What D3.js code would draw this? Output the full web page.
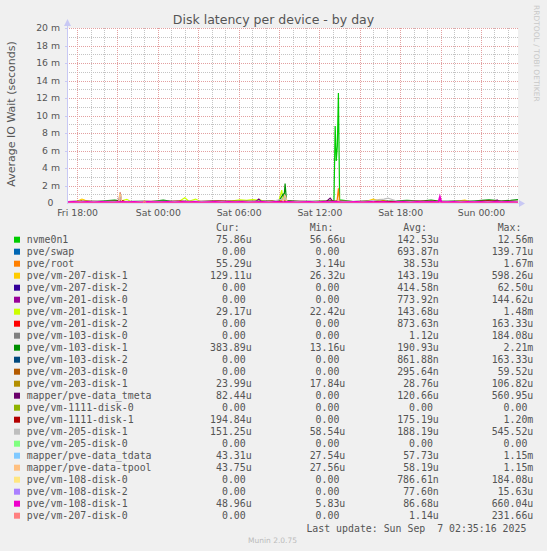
<!DOCTYPE html>
<html>
<head>
<meta charset="utf-8">
<script src="https://cdn.jsdelivr.net/npm/d3@7"></script>
<style>
  html, body { margin: 0; padding: 0; background: #f0f0f0; }
  svg { display: block; font-family: "DejaVu Sans", sans-serif; }
  .mono { font-family: "DejaVu Sans Mono", monospace; font-size: 9.9px; fill: #555; white-space: pre; }
</style>
</head>
<body>
<svg id="chart" width="547" height="551"></svg>
<script>
// hours counted from Fri 00:00, values in milliseconds
const startHour = 17.25, endHour = 50.75;

const names = ["nvme0n1","pve/swap","pve/root","pve/vm-207-disk-1","pve/vm-207-disk-2","pve/vm-201-disk-0",
  "pve/vm-201-disk-1","pve/vm-201-disk-2","pve/vm-103-disk-0","pve/vm-103-disk-1","pve/vm-103-disk-2",
  "pve/vm-203-disk-0","pve/vm-203-disk-1","mapper/pve-data_tmeta","pve/vm-1111-disk-0","pve/vm-1111-disk-1",
  "pve/vm-205-disk-1","pve/vm-205-disk-0","mapper/pve-data_tdata","mapper/pve-data-tpool","pve/vm-108-disk-0",
  "pve/vm-108-disk-2","pve/vm-108-disk-1","pve/vm-207-disk-0"];

const colors = ["#00CC00","#0066B3","#FF8000","#FFCC00","#330099","#990099","#CCFF00","#FF0000","#808080",
  "#008F00","#00487D","#B35A00","#B38F00","#6B006B","#8FB300","#B30000","#BEBEBE","#80FF80","#80C9FF",
  "#FFC080","#FFE680","#AA80FF","#EE00CC","#FF8080"];

const curLabels = ["75.86u","0.00","55.29u","129.11u","0.00","0.00","29.17u","0.00","0.00","383.89u","0.00","0.00",
  "23.99u","82.44u","0.00","194.84u","151.25u","0.00","43.31u","43.75u","0.00","0.00","48.96u","0.00"];
const minLabels = ["56.66u","0.00","3.14u","26.32u","0.00","0.00","22.42u","0.00","0.00","13.16u","0.00","0.00",
  "17.84u","0.00","0.00","0.00","58.54u","0.00","27.54u","27.56u","0.00","0.00","5.83u","0.00"];
const avgLabels = ["142.53u","693.87n","38.53u","143.19u","414.58n","773.92n","143.68u","873.63n","1.12u","190.93u",
  "861.88n","295.64n","28.76u","120.66u","0.00","175.19u","188.19u","0.00","57.73u","58.19u","786.61n","77.60n",
  "86.68u","1.14u"];
const maxLabels = ["12.56m","139.71u","1.67m","598.26u","62.50u","144.62u","1.48m","163.33u","184.08u","2.21m",
  "163.33u","59.52u","106.82u","560.95u","0.00","1.20m","545.52u","0.00","1.15m","1.15m","184.08u","15.63u",
  "660.04u","231.66u"];

const nvme0n1 = [[17.25,.13],[18,.15],[19,.12],[20,.16],[21,.14],[22,.13],[23,.18],[24,.14],[25,.12],[26,.15],
  [27,.13],[28,.16],[29,.12],[30,.14],[31,.13],[32,.15],[33,.2],[33.3,.55],[33.6,.18],[34.5,.14],[35.5,.16],
  [36.5,.15],[37.08,.3],[37.17,8.8],[37.25,4.8],[37.33,6.5],[37.41,12.56],[37.5,.35],[38.5,.15],[39.5,.14],
  [40.5,.17],[41.5,.13],[42.5,.16],[43.5,.15],[44.5,.14],[45.5,.16],[46.5,.18],[47.5,.15],[48.5,.14],[49.5,.17],
  [50.75,.08]];
const pveSwap = [[17.25,0],[29.6,0],[29.67,.14],[29.75,0],[50.75,0]];
const pveRoot = [[17.25,.03],[18.2,.04],[18.3,.3],[18.5,.04],[22,.03],[26,.04],[30,.03],[33.35,.04],[33.45,.5],
  [33.6,.04],[37.3,.05],[37.41,1.67],[37.5,.06],[42,.03],[46,.04],[50.75,.055]];
const vm207disk1 = [[17.25,.13],[18,.2],[18.36,.45],[18.6,.3],[19,.15],[20,.14],[21,.16],[22,.13],[23,.15],
  [24,.14],[25,.17],[26,.13],[27,.15],[28,.14],[29,.16],[30,.13],[31,.15],[32,.14],[33,.16],[33.4,.6],[33.6,.18],
  [34.5,.14],[35.5,.15],[36.5,.13],[37.5,.16],[38.5,.14],[39.5,.2],[40,.45],[40.3,.3],[40.5,.42],[41,.15],
  [42,.14],[43,.13],[44,.15],[45,.14],[46,.16],[46.8,.32],[47.2,.15],[48,.14],[49,.13],[50,.15],[50.75,.13]];
const vm207disk2 = [[17.25,0],[41.2,0],[41.25,.0625],[41.3,0],[50.75,0]];
const vm201disk0 = [[17.25,0],[24.9,0],[25,.145],[25.1,0],[50.75,0]];
const vm201disk1 = [[17.25,.1],[18,.12],[19,.1],[20,.14],[21,.12],[21.7,.42],[22,.15],[23,.12],[24,.18],
  [25,.14],[25.6,.2],[26,.6],[26.3,.2],[26.8,.45],[27.2,.15],[28,.12],[29,.14],[30.1,.35],[30.6,.3],[31,.38],
  [31.6,.32],[32,.15],[33,.3],[33.2,1.48],[33.3,.4],[34,.15],[35,.12],[36,.18],[37,.14],[38,.12],[39,.16],
  [40,.22],[41,.12],[42,.14],[43,.12],[44,.13],[45,.12],[46,.14],[47,.12],[48,.13],[49,.11],[50,.1],[50.75,.03]];
const vm201disk2 = [[17.25,0],[30.9,0],[31,.163],[31.1,0],[50.75,0]];
const vm103disk0 = [[17.25,0],[40.9,0],[41,.184],[41.1,0],[50.75,0]];
const vm103disk1 = [[17.25,.15],[18.5,.2],[19.5,.18],[20.8,.32],[21.5,.17],[22.5,.2],[23.5,.16],[24.4,.33],
  [25,.18],[26,.2],[27,.17],[28,.22],[29,.19],[30,.2],[31,.18],[32,.21],[33,.25],[33.3,1.0],[33.37,.6],
  [33.45,2.21],[33.55,.3],[34.5,.2],[35.5,.18],[36.5,.22],[37.5,.2],[38.5,.17],[39.5,.21],[40.5,.19],[41.5,.23],
  [42.5,.3],[43.5,.22],[44.3,.34],[45,.2],[46,.22],[47,.19],[48.6,.35],[49.5,.25],[50.2,.3],[50.75,.38]];
const vm103disk2 = [[17.25,0],[35.9,0],[36,.163],[36.1,0],[50.75,0]];
const vm203disk0 = [[17.25,0],[27.9,0],[28,.06],[28.1,0],[50.75,0]];
const vm203disk1 = [[17.25,.03],[25,.025],[33,.04],[37.4,.1],[42,.03],[50.75,.024]];
const dataTmeta = [[17.25,.1],[18.5,.12],[19.5,.08],[20.5,.14],[21.5,.1],[22.5,.12],[23.5,.09],[24.5,.13],
  [25.5,.1],[26.5,.12],[27.5,.11],[28.5,.13],[29.5,.1],[30.5,.14],[31.3,.2],[31.5,.45],[31.7,.15],[32.5,.12],
  [33.5,.1],[34.5,.13],[35.5,.11],[36.5,.14],[36.8,.56],[37,.15],[38,.12],[39,.1],[40,.13],[41,.11],[42,.12],
  [43,.1],[44,.14],[45,.11],[46,.12],[47,.1],[48,.13],[49,.12],[49.2,.35],[49.4,.12],[50.75,.08]];
const vm1111disk0 = [[17.25,0],[50.75,0]];
const vm1111disk1 = [[17.25,.15],[18,.2],[19,.18],[20,.16],[21,.22],[21.12,.4],[21.2,1.2],[21.28,.3],[21.5,.18],
  [22.5,.15],[23.5,.2],[24.5,.17],[25.5,.22],[26.5,.16],[27.5,.2],[28.5,.24],[29.5,.19],[30.5,.2],[31.5,.17],
  [32.5,.21],[33.5,.18],[34.5,.2],[35.5,.16],[36.5,.19],[37.5,.22],[38.5,.17],[39.5,.2],[40.5,.18],[41.5,.16],
  [42.5,.19],[43.5,.22],[44.5,.18],[45.5,.17],[46.5,.2],[47.5,.16],[48.5,.24],[49.5,.19],[50.75,.19]];
const vm205disk1 = [[17.25,.17],[18.5,.2],[19.5,.18],[20.5,.19],[21.5,.17],[22.5,.2],[23.5,.18],[24.5,.19],
  [25.5,.17],[26.5,.2],[27.5,.18],[28.5,.19],[29.5,.17],[30.5,.2],[31.5,.18],[32.5,.19],[33.4,.5],[33.6,.22],
  [34.5,.18],[35.5,.2],[36.5,.17],[37.5,.19],[38.5,.18],[39.5,.2],[40.8,.45],[41.1,.55],[41.4,.4],[41.8,.2],
  [42.5,.18],[43.5,.19],[44.5,.17],[45.5,.2],[46.5,.18],[47.5,.19],[48.5,.17],[49.5,.2],[50.75,.15]];
const vm205disk0 = [[17.25,0],[50.75,0]];
const dataTdata = [[17.25,.05],[19,.06],[21.1,.05],[21.17,1.1],[21.25,.7],[21.32,.05],[25,.06],[29,.05],
  [33.3,.05],[33.4,.85],[33.5,.6],[33.6,.05],[37.3,.06],[37.41,.3],[37.5,.06],[42,.05],[46,.06],[50.75,.043]];
const dataTpool = [[17.25,.05],[19,.06],[21.1,.06],[21.17,1.15],[21.25,.8],[21.32,.06],[25,.06],[29,.05],
  [33.3,.06],[33.4,.9],[33.5,.7],[33.6,.06],[37.3,.06],[37.41,.32],[37.5,.06],[42,.05],[46,.06],[50.75,.044]];
const vm108disk0 = [[17.25,0],[39.9,0],[40,.184],[40.1,0],[50.75,0]];
const vm108disk2 = [[17.25,0],[46.9,0],[47,.016],[47.1,0],[50.75,0]];
const vm108disk1 = [[17.25,.08],[17.75,.12],[18.25,.06],[18.75,.1],[19.25,.07],[19.75,.11],[20.25,.09],
  [20.75,.06],[21.25,.12],[21.75,.08],[22.25,.1],[22.75,.06],[23.25,.11],[23.75,.08],[24.25,.09],[24.75,.12],
  [25.25,.07],[25.75,.1],[26.25,.08],[26.75,.11],[27.25,.06],[27.75,.09],[28.25,.12],[28.75,.07],[29.25,.1],
  [29.75,.08],[30.25,.11],[30.75,.06],[31.25,.09],[31.75,.12],[32.25,.07],[32.75,.1],[33.25,.08],[33.75,.11],
  [34.25,.06],[34.75,.09],[35.25,.12],[35.75,.07],[36.25,.1],[36.75,.08],[37.25,.11],[37.75,.06],[38.25,.09],
  [38.75,.12],[39.25,.07],[39.75,.1],[40.25,.08],[40.75,.11],[41.25,.06],[41.75,.09],[42.25,.12],[42.75,.07],
  [43.25,.1],[43.75,.08],[44.25,.11],[44.85,.1],[44.95,.66],[45.05,.12],[45.5,.08],[46,.11],[46.5,.07],
  [47,.1],[47.5,.09],[48,.12],[48.5,.07],[49,.1],[49.5,.08],[50,.11],[50.75,.05]];
const vm207disk0 = [[17.25,0],[22.9,0],[23,.23],[23.1,0],[50.75,0]];

const seriesData = [nvme0n1,pveSwap,pveRoot,vm207disk1,vm207disk2,vm201disk0,vm201disk1,vm201disk2,
  vm103disk0,vm103disk1,vm103disk2,vm203disk0,vm203disk1,dataTmeta,vm1111disk0,vm1111disk1,vm205disk1,
  vm205disk0,dataTdata,dataTpool,vm108disk0,vm108disk2,vm108disk1,vm207disk0];

const yTickValues = [0,2,4,6,8,10,12,14,16,18,20];
const yTickLabels = ["0","2 m","4 m","6 m","8 m","10 m","12 m","14 m","16 m","18 m","20 m"];
const xTickHours = [18,24,30,36,42,48];
const xTickLabels = ["Fri 18:00","Sat 00:00","Sat 06:00","Sat 12:00","Sat 18:00","Sun 00:00"];

const base = new Date(2025, 8, 5, 0, 0, 0);
const toDate = h => new Date(base.getTime() + h * 3600e3);

const svg = d3.select("#chart");
const pl = 67, pr = 518, pt = 28, pb = 203;

const x = d3.scaleTime().domain([toDate(startHour), toDate(endHour)]).range([pl, pr]);
const y = d3.scaleLinear().domain([0, 20]).range([pb, pt]);

// background + canvas
svg.append("rect").attr("width", 547).attr("height", 551).attr("fill", "#f0f0f0");
svg.append("rect").attr("x", pl).attr("y", pt).attr("width", pr - pl).attr("height", pb - pt)
  .attr("fill", "#ffffff");

// grid: minor then major
const grid = svg.append("g").attr("shape-rendering", "crispEdges");
const minorH = d3.range(1, 20, 1).filter(v => v % 2 !== 0);
const majorH = d3.range(2, 21, 2);
const minorV = d3.range(18, 51, 1).filter(h => h % 3 !== 0);
const majorV = d3.range(18, 51, 3);
const gy = d => Math.round(y(d)) + 0.5;
const gx = d => Math.round(x(toDate(d))) + 0.5;

grid.selectAll(".gh").data(minorH).enter().append("line")
  .attr("x1", pl).attr("x2", pr).attr("y1", gy).attr("y2", gy)
  .attr("stroke", "#c4c4c4").attr("stroke-dasharray", "1,1");
grid.selectAll(".gv").data(minorV).enter().append("line")
  .attr("x1", gx).attr("x2", gx).attr("y1", pt).attr("y2", pb)
  .attr("stroke", "#c4c4c4").attr("stroke-dasharray", "1,1");
grid.selectAll(".mh").data(majorH).enter().append("line")
  .attr("x1", pl).attr("x2", pr).attr("y1", gy).attr("y2", gy)
  .attr("stroke", "#e3a0a0").attr("stroke-dasharray", "1,1");
grid.selectAll(".mv").data(majorV).enter().append("line")
  .attr("x1", gx).attr("x2", gx).attr("y1", pt).attr("y2", pb)
  .attr("stroke", "#e3a0a0").attr("stroke-dasharray", "1,1");

// data lines
svg.append("clipPath").attr("id", "plotclip").append("rect")
  .attr("x", pl).attr("y", pt - 5).attr("width", pr - pl).attr("height", pb - pt + 5);
const line = d3.line().x(d => x(toDate(d[0]))).y(d => y(d[1]));
const lines = svg.append("g").attr("clip-path", "url(#plotclip)");
seriesData.forEach((data, i) => {
  lines.append("path").datum(data)
    .attr("d", line)
    .attr("fill", "none")
    .attr("stroke", colors[i])
    .attr("stroke-width", names[i] === "pve/vm-108-disk-1" ? 2 : 1.2)
    .attr("stroke-linejoin", "miter");
});

// axes (rrdtool style)
const axisColor = "#c8c8f4";
svg.append("line").attr("x1", pl + 0.5).attr("x2", pl + 0.5).attr("y1", pb + 1).attr("y2", 24)
  .attr("stroke", axisColor);
svg.append("path").attr("d", `M${pl - 3},26 L${pl + 0.5},19 L${pl + 4},26 Z`).attr("fill", axisColor);
svg.append("line").attr("x1", pl).attr("x2", pr + 3).attr("y1", pb + 0.5).attr("y2", pb + 0.5)
  .attr("stroke", axisColor).attr("stroke-opacity", 0.5);
svg.append("path").attr("d", `M${pr + 1},${pb - 3} L${pr + 7},${pb + 0.5} L${pr + 1},${pb + 4} Z`)
  .attr("fill", axisColor);
svg.append("g").selectAll("line").data(majorH).enter().append("line")
  .attr("x1", pl - 2).attr("x2", pl).attr("y1", gy).attr("y2", gy)
  .attr("stroke", axisColor);

const yAxis = svg.append("g").attr("transform", `translate(${pl},0)`)
  .call(d3.axisLeft(y).tickValues(yTickValues).tickSize(0).tickPadding(7)
    .tickFormat((d, i) => yTickLabels[i]));
yAxis.select(".domain").remove();
yAxis.selectAll("text").attr("font-family", "DejaVu Sans").attr("font-size", "9.3px").attr("fill", "#555")
  .attr("dx", (d, i) => yTickLabels[i].indexOf("m") < 0 ? -6.7 : 0);

const xAxis = svg.append("g").attr("transform", `translate(0,${pb})`)
  .call(d3.axisBottom(x).tickValues(xTickHours.map(toDate)).tickSize(0).tickPadding(6)
    .tickFormat((d, i) => xTickLabels[i]));
xAxis.select(".domain").remove();
xAxis.selectAll("text").attr("font-family", "DejaVu Sans").attr("font-size", "9.3px").attr("fill", "#555");

// titles
svg.append("text").attr("x", 273.5).attr("y", 23.5).attr("text-anchor", "middle")
  .attr("font-size", "12.5px").attr("fill", "#555").text("Disk latency per device - by day");
svg.append("text").attr("transform", "translate(14.5,114) rotate(-90)").attr("text-anchor", "middle")
  .attr("font-size", "11px").attr("fill", "#555").text("Average IO Wait (seconds)");
svg.append("text").attr("transform", "translate(534,5) rotate(90)").attr("text-anchor", "start")
  .attr("font-size", "7.5px").attr("fill", "#c8c8c8").text("RRDTOOL / TOBI OETIKER");

// legend
const lg = svg.append("g");
const probe = lg.append("text").attr("class", "mono").text("0000000000");
const cw = probe.node().getComputedTextLength() / 10;
probe.remove();
const put = (str, rightX, yc) => {
  const s = /\d$/.test(str) ? str + " " : str;
  lg.append("text").attr("class", "mono").attr("xml:space", "preserve")
    .attr("x", rightX - s.length * cw).attr("y", yc + 3.5).text(s);
};
const colRight = [251.7, 345.3, 438.8, 533.3];
const headers = ["Cur:  ", "Min:  ", "Avg:  ", "Max:  "];
headers.forEach((h, j) => put(h, colRight[j], 227.3));
const cols = [curLabels, minLabels, avgLabels, maxLabels];
names.forEach((n, i) => {
  const yc = 239.7 + i * 12;
  lg.append("rect").attr("x", 14).attr("y", yc - 3).attr("width", 6).attr("height", 6).attr("fill", colors[i]);
  lg.append("text").attr("class", "mono").attr("x", 26.7).attr("y", yc + 3.5).text(n);
  cols.forEach((c, j) => put(c[i], colRight[j], yc));
});
put("Last update: Sun Sep  7 02:35:16 2025", 532.3, 528);
svg.append("text").attr("x", 272.5).attr("y", 543).attr("text-anchor", "middle")
  .attr("font-size", "7.5px").attr("fill", "#bbbbbb").text("Munin 2.0.75");
</script>
</body>
</html>
